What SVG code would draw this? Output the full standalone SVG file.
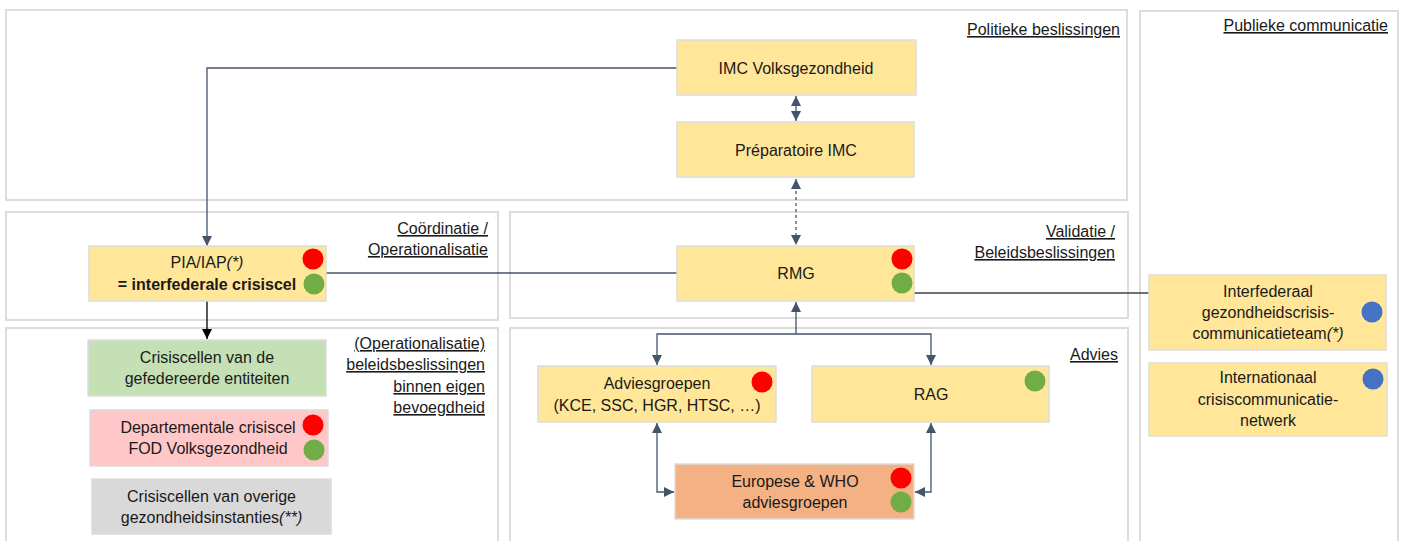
<svg xmlns="http://www.w3.org/2000/svg" width="1405" height="541" viewBox="0 0 1405 541">
<defs>
<style>
.sec{fill:#fff;stroke:#dcdcdc;stroke-width:2}
.nd{stroke:#dcdcdc;stroke-width:1.5}
.y{fill:#ffe699}
.t{font-family:"Liberation Sans",Arial,sans-serif;font-size:16px;fill:#1a1a1a;text-anchor:middle}
.lb{font-family:"Liberation Sans",Arial,sans-serif;font-size:16px;fill:#1a1a1a;text-anchor:end;text-decoration:underline}
.c{fill:none;stroke:#44546a;stroke-width:1.3}
.r{fill:#ff0000}.g{fill:#70ad47}.b{fill:#4472c4}
</style>
<marker id="a" viewBox="0 0 10 10" refX="10" refY="5" markerWidth="10" markerHeight="10" markerUnits="userSpaceOnUse" orient="auto-start-reverse"><path d="M0,0 L10,5 L0,10 z" fill="#44546a"/></marker>
<marker id="ak" viewBox="0 0 10 10" refX="10" refY="5" markerWidth="10" markerHeight="10" markerUnits="userSpaceOnUse" orient="auto-start-reverse"><path d="M0,0 L10,5 L0,10 z" fill="#000"/></marker>
</defs>
<rect width="1405" height="541" fill="#fff"/>
<g id="sections">
<rect class="sec" x="6" y="10" width="1121" height="190"/>
<rect class="sec" x="1140" y="11" width="258" height="540"/>
<rect class="sec" x="6" y="212" width="492" height="108"/>
<rect class="sec" x="510" y="212" width="618" height="106"/>
<rect class="sec" x="6" y="328" width="492" height="220"/>
<rect class="sec" x="510" y="328" width="618" height="220"/>
<text class="lb" x="1120" y="35">Politieke beslissingen</text>
<text class="lb" x="1388" y="31">Publieke communicatie</text>
<text class="lb" x="488" y="234">Coördinatie /</text>
<text class="lb" x="488" y="255">Operationalisatie</text>
<text class="lb" x="1115" y="237">Validatie /</text>
<text class="lb" x="1115" y="258">Beleidsbeslissingen</text>
<text class="lb" x="485" y="349">(Operationalisatie)</text>
<text class="lb" x="485" y="370">beleidsbeslissingen</text>
<text class="lb" x="485" y="392">binnen eigen</text>
<text class="lb" x="485" y="413">bevoegdheid</text>
<text class="lb" x="1118" y="360">Advies</text>
</g>
<g id="connectors">
<path class="c" d="M677,68 H207 V246" marker-end="url(#a)"/>
<path class="c" d="M796,96 V121" marker-start="url(#a)" marker-end="url(#a)"/>
<path class="c" d="M796,179 V245" stroke-dasharray="3,3" marker-start="url(#a)" marker-end="url(#a)"/>
<path class="c" d="M326,273 H677"/>
<path class="c" d="M914,293 H1149" style="stroke:#404040"/>
<path d="M207,301 V339" fill="none" stroke="#000" stroke-width="1.3" marker-end="url(#ak)"/>
<path class="c" d="M796,334 V302" marker-end="url(#a)"/>
<path class="c" d="M657,365 V334 H931 V365" marker-start="url(#a)" marker-end="url(#a)"/>
<path class="c" d="M657,423 V492 H674" marker-start="url(#a)" marker-end="url(#a)"/>
<path class="c" d="M931,423 V492 H915" marker-start="url(#a)" marker-end="url(#a)"/>
</g>
<g id="imc">
<rect class="nd y" x="677" y="40" width="239" height="55"/>
<text class="t" x="796" y="74">IMC Volksgezondheid</text>
</g>
<g id="prep">
<rect class="nd y" x="677" y="122" width="237" height="55"/>
<text class="t" x="796" y="156">Préparatoire IMC</text>
</g>
<g id="rmg">
<rect class="nd y" x="677" y="246" width="237" height="55"/>
<text class="t" x="796" y="279">RMG</text>
<circle class="r" cx="902" cy="259" r="10.5"/>
<circle class="g" cx="902" cy="283" r="10.5"/>
</g>
<g id="pia">
<rect class="nd y" x="89" y="246" width="237" height="55"/>
<text class="t" x="207" y="268">PIA/IAP<tspan font-style="italic">(*)</tspan></text>
<text class="t" x="207" y="290" font-weight="bold" font-size="15.3px">= interfederale crisiscel</text>
<circle class="r" cx="313" cy="259" r="10.5"/>
<circle class="g" cx="314" cy="284" r="10.5"/>
</g>
<g id="gefed">
<rect class="nd" fill="#c5e0b4" x="88" y="340" width="238" height="56"/>
<text class="t" x="207" y="363">Crisiscellen van de</text>
<text class="t" x="207" y="384">gefedereerde entiteiten</text>
</g>
<g id="depart">
<rect class="nd" fill="#ffc7c7" x="90" y="410" width="238" height="56"/>
<text class="t" x="208" y="433">Departementale crisiscel</text>
<text class="t" x="208" y="454">FOD Volksgezondheid</text>
<circle class="r" cx="313" cy="425" r="10.5"/>
<circle class="g" cx="314" cy="450" r="10.5"/>
</g>
<g id="overige">
<rect class="nd" fill="#d9d9d9" x="92" y="479" width="239" height="55"/>
<text class="t" x="211.5" y="502">Crisiscellen van overige</text>
<text class="t" x="211.5" y="523">gezondheidsinstanties<tspan font-style="italic">(**)</tspan></text>
</g>
<g id="advies">
<rect class="nd y" x="538" y="366" width="238" height="56"/>
<text class="t" x="657" y="389">Adviesgroepen</text>
<text class="t" x="657" y="411">(KCE, SSC, HGR, HTSC, …)</text>
<circle class="r" cx="762" cy="382" r="10.5"/>
</g>
<g id="rag">
<rect class="nd y" x="812" y="366" width="237" height="56"/>
<text class="t" x="931" y="400">RAG</text>
<circle class="g" cx="1035" cy="381" r="10.5"/>
</g>
<g id="europese">
<rect class="nd" fill="#f4b183" x="675" y="464" width="239" height="55"/>
<text class="t" x="795" y="487">Europese &amp; WHO</text>
<text class="t" x="795" y="508">adviesgroepen</text>
<circle class="r" cx="901" cy="478" r="10.5"/>
<circle class="g" cx="901" cy="502" r="10.5"/>
</g>
<g id="interfed">
<rect class="nd y" x="1149" y="275" width="237" height="75"/>
<text class="t" x="1268" y="297">Interfederaal</text>
<text class="t" x="1268" y="318">gezondheidscrisis-</text>
<text class="t" x="1268" y="339">communicatieteam<tspan font-style="italic">(*)</tspan></text>
<circle class="b" cx="1372" cy="312" r="10.5"/>
</g>
<g id="internat">
<rect class="nd y" x="1149" y="363" width="238" height="73"/>
<text class="t" x="1268" y="383">Internationaal</text>
<text class="t" x="1268" y="405">crisiscommunicatie-</text>
<text class="t" x="1268" y="426">netwerk</text>
<circle class="b" cx="1373" cy="379" r="10.5"/>
</g>
</svg>
